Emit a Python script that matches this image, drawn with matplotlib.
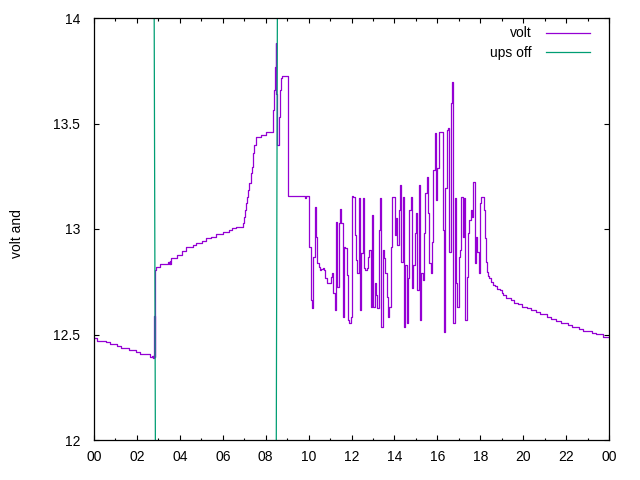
import numpy as np
import matplotlib
matplotlib.use("Agg")
import matplotlib.pyplot as plt
from matplotlib.ticker import MultipleLocator

plt.rcParams['font.family'] = ['Liberation Sans', 'DejaVu Sans']

# ---- data (hours of day, volts) ----
morning_t = [0.00, 0.14, 0.56, 0.75, 1.07, 1.26, 1.62, 1.97, 2.16, 2.62, 2.70, 2.73, 2.76, 2.79,
             2.81, 2.83, 2.86, 2.90, 3.08, 3.46, 3.50, 3.53, 3.56, 3.61, 3.85, 4.08, 4.31, 4.62,
             4.77, 5.01, 5.24, 5.47, 5.70, 6.01, 6.29, 6.44, 6.63,
             6.93, 6.98, 7.03, 7.08, 7.13, 7.18, 7.24, 7.30, 7.35, 7.39, 7.42, 7.47, 7.53,
             7.77, 8.00, 8.33, 8.39, 8.44, 8.47, 8.50, 8.53, 8.60, 8.66, 8.72, 8.77,
             9.06, 9.83, 9.87]
morning_v = [12.482, 12.471, 12.463, 12.453, 12.445, 12.436, 12.427, 12.417, 12.408, 12.395, 12.40, 12.39, 12.40, 12.39,
             12.59, 12.395, 12.806, 12.82, 12.834, 12.845, 12.834, 12.85, 12.834, 12.861, 12.877, 12.897, 12.913, 12.923,
             12.935, 12.945, 12.956, 12.964, 12.975, 12.984, 12.994, 13.003, 13.011,
             13.027, 13.058, 13.09, 13.122, 13.153, 13.185, 13.217, 13.264, 13.295, 13.327, 13.359, 13.40, 13.435,
             13.444, 13.461, 13.564, 13.659, 13.77, 13.88, 13.64, 13.40, 13.53, 13.66, 13.714, 13.725,
             13.156, 13.145, 13.156]

noisy_start = 10.03      # hour of first sample of the noisy block
noisy_step = 0.06214     # hours between samples
noisy_v = [12.916, 12.664, 12.624, 12.869, 13.106, 12.964, 12.837, 12.822, 12.806, 12.809,
           12.815, 12.806, 12.766, 12.746, 12.746, 12.743, 12.774, 12.790, 12.695, 12.616,
           13.035, 12.727, 13.027, 13.093, 13.027, 12.585, 12.916, 12.908, 12.782, 12.569,
           12.553, 12.585, 13.156, 13.153, 12.972, 12.853, 12.790, 13.145, 12.616, 12.885,
           13.145, 12.814, 12.806, 12.814, 12.869, 12.901, 12.632, 13.066, 12.632, 12.743,
           12.687, 12.624, 12.995, 13.145, 12.537, 12.901, 12.861, 12.790, 12.679, 12.585,
           12.632, 12.916, 13.153, 13.153, 12.972, 13.051, 12.924, 13.090, 13.209, 12.845,
           13.153, 12.537, 12.829, 12.553, 12.766, 13.090, 13.153, 12.719, 12.829, 12.980,
           13.074, 12.711, 13.209, 12.569, 12.790, 12.758, 12.980, 13.169, 13.245, 13.074,
           12.837, 12.790, 12.940, 13.280, 13.453, 13.137, 13.288, 13.461, 13.461, 13.461,
           12.995, 12.513, 13.193, 13.469, 13.477, 12.893, 13.596, 13.698, 12.553, 13.145,
           12.743, 12.632, 12.869, 12.901, 13.153, 12.964, 13.145, 12.569, 12.774, 12.980,
           13.043, 13.090, 13.059, 13.224, 12.837, 12.964, 12.893, 12.790, 13.122, 13.153,
           13.153, 13.090]

evening_t = [18.22, 18.27, 18.30, 18.38, 18.42, 18.49, 18.58, 18.69, 18.80, 18.92, 19.00, 19.08,
             19.20, 19.42, 19.57, 19.77, 19.93, 20.19, 20.35, 20.60, 20.79, 21.10, 21.30, 21.53,
             21.75, 22.10, 22.26, 22.62, 22.80, 23.19, 23.39, 23.71, 24.00]
evening_v = [12.956, 12.845, 12.798, 12.777, 12.766, 12.750, 12.735, 12.730, 12.714, 12.711, 12.695, 12.687,
             12.671, 12.664, 12.651, 12.643, 12.632, 12.624, 12.616, 12.605, 12.596, 12.585, 12.574, 12.564,
             12.555, 12.545, 12.536, 12.528, 12.517, 12.509, 12.501, 12.490, 12.490]

# UPS-off events: each drawn as a near-vertical line from top to bottom
ups_t = [2.805, 2.86, np.nan, 8.545, 8.495]
ups_v = [14.0, 12.0, np.nan, 14.0, 12.0]

xticks = list(range(0, 25, 2))
xticklabels = ["%02d" % (h % 24) for h in xticks]
yticks = [12, 12.5, 13, 13.5, 14]
yticklabels = ["12", "12.5", "13", "13.5", "14"]

noisy_t = noisy_start + noisy_step * np.arange(len(noisy_v))
volt_t = np.concatenate([morning_t, noisy_t, evening_t])
volt_v = np.concatenate([morning_v, noisy_v, evening_v])

# ---- figure ----
fig = plt.figure(figsize=(6.4, 4.8), dpi=100)
ax = fig.add_axes([94/640, 40/480, 515/640, 422/480])

ax.plot(volt_t, volt_v, drawstyle='steps-post', color='#9400D3', lw=0.9, label='volt')
ax.plot(ups_t, ups_v, color='#009E73', lw=0.9, label='ups off')

ax.set_xlim(0, 24)
ax.set_ylim(12, 14)
ax.set_xticks(xticks)
ax.set_xticklabels(xticklabels)
ax.xaxis.set_minor_locator(MultipleLocator(1))
ax.set_yticks(yticks)
ax.set_yticklabels(yticklabels)

ax.tick_params(which='both', direction='in', top=True, right=True, labelsize=10, colors='black', width=0.8)
ax.tick_params(which='major', length=3.5)
ax.tick_params(which='minor', length=1.8)
ax.tick_params(axis='x', pad=7.5)
ax.tick_params(axis='y', pad=10)
for s in ax.spines.values():
    s.set_linewidth(0.9)
    s.set_color('black')

ax.set_ylabel('volt and', fontsize=10)
ax.yaxis.set_label_coords(-0.136, 0.49)

leg = ax.legend(loc='upper right', bbox_to_anchor=(0.963, 0.980), frameon=False,
                markerfirst=False, fontsize=10, handlelength=3.2, handletextpad=1.0,
                labelspacing=0.4, borderpad=0, borderaxespad=0)

fig.savefig('out.png', dpi=100)
